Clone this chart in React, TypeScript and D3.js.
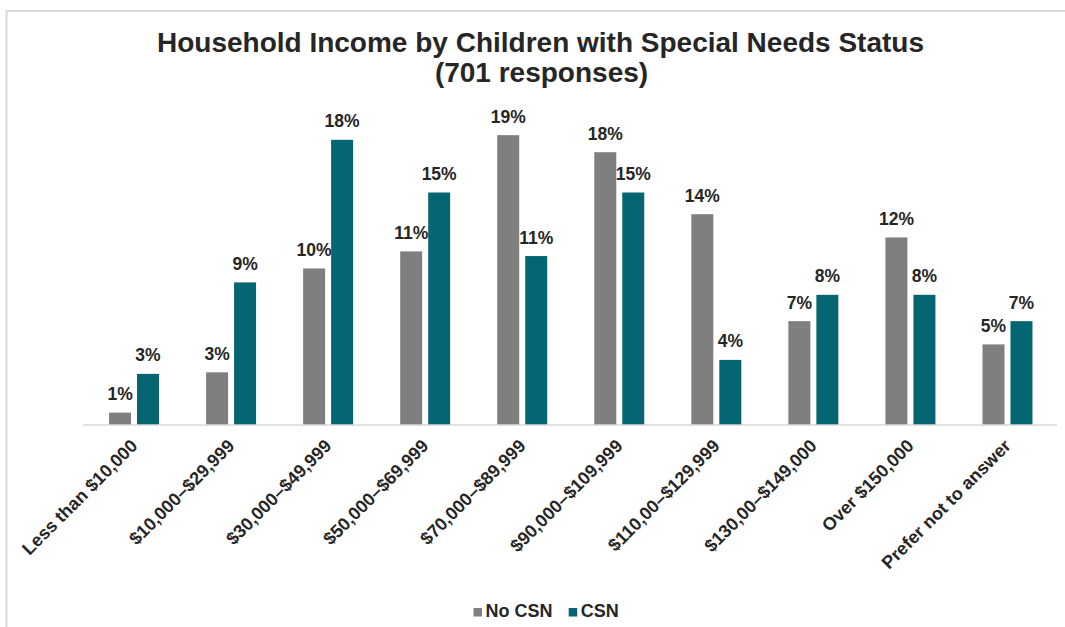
import React from "react";
import * as d3 from "d3";

const categories = [
  "Less than $10,000",
  "$10,000–$29,999",
  "$30,000–$49,999",
  "$50,000–$69,999",
  "$70,000–$89,999",
  "$90,000–$109,999",
  "$110,00–$129,999",
  "$130,00–$149,000",
  "Over $150,000",
  "Prefer not to answer",
];
const seriesNames = ["No CSN", "CSN"];
const noCSN = [0.8, 3.4, 10.1, 11.2, 18.7, 17.6, 13.6, 6.7, 12.1, 5.2];
const CSN = [3.3, 9.2, 18.4, 15.0, 10.9, 15.0, 4.2, 8.4, 8.4, 6.7];
const titleLines = ["Household Income by Children with Special Needs Status", "(701 responses)"];

const W = 1065;
const H = 627;
const FONT = "'Liberation Sans', Arial, Helvetica, sans-serif";
const TEXT = "#262626";
const COLORS = ["#7f7f7f", "#066572"];

export default function App() {
  const values = [noCSN, CSN];
  const x0 = d3.scaleBand<string>().domain(categories).range([85.5, 1056]).paddingInner(0.485).paddingOuter(0.2425);
  const x1 = d3.scaleBand<string>().domain(seriesNames).range([0, x0.bandwidth()]).paddingInner(0.214).paddingOuter(0);
  const y = d3.scaleLinear().domain([0, 20]).range([425, 115]);
  const color = d3.scaleOrdinal<string, string>().domain(seriesNames).range(COLORS);

  // legend layout
  const legendY = 616.5;
  const sq = 8.5;
  const legendItems = [
    { name: seriesNames[0], x: 473.5 },
    { name: seriesNames[1], x: 568.7 },
  ];

  return (
    <svg width={W} height={H} style={{ position: "absolute", left: 0, top: 0, background: "#fff" }} fontFamily={FONT}>
      <rect x={0} y={0} width={W} height={H} fill="#ffffff" />
      {/* frame */}
      <path d={`M6.5,${H} V11 H${W}`} fill="none" stroke="#d9d9d9" strokeWidth={2} />
      {/* title */}
      <text x={540.5} textAnchor="middle" fontSize={28} fontWeight="bold" fill={TEXT}>
        <tspan x={540.5} y={52.3}>{titleLines[0]}</tspan>
        <tspan x={541.5} y={82}>{titleLines[1]}</tspan>
      </text>
      {/* bars */}
      {categories.map((c, i) => (
        <g key={c} transform={`translate(${x0(c)},0)`}>
          {seriesNames.map((s, j) => {
            const v = values[j][i];
            const bx = x1(s)!;
            return (
              <g key={s}>
                <rect x={bx} y={y(v)} width={x1.bandwidth()} height={y(0) - y(v)} fill={color(s)} />
                <text
                  x={bx + x1.bandwidth() / 2}
                  y={y(v) - 12.5}
                  textAnchor="middle"
                  fontSize={17.5}
                  fontWeight="bold"
                  fill={TEXT}
                >
                  {`${Math.round(v)}%`}
                </text>
              </g>
            );
          })}
        </g>
      ))}
      {/* x axis line */}
      <line x1={83} x2={1057} y1={y(0)} y2={y(0)} stroke="#d9d9d9" strokeWidth={1.5} />
      {/* x labels */}
      {categories.map((c) => {
        const cx = x0(c)! + x0.bandwidth() / 2;
        return (
          <text
            key={c}
            transform={`translate(${cx + 4.5},447) rotate(-45)`}
            textAnchor="end"
            fontSize={18}
            fontWeight="bold"
            fill={TEXT}
          >
            {c}
          </text>
        );
      })}
      {/* legend */}
      {legendItems.map((it) => (
        <g key={it.name}>
          <rect x={it.x} y={legendY - sq} width={sq} height={sq} fill={color(it.name)} />
          <text x={it.x + sq + 3.5} y={legendY} fontSize={18} fontWeight="bold" fill={TEXT}>
            {it.name}
          </text>
        </g>
      ))}
    </svg>
  );
}
